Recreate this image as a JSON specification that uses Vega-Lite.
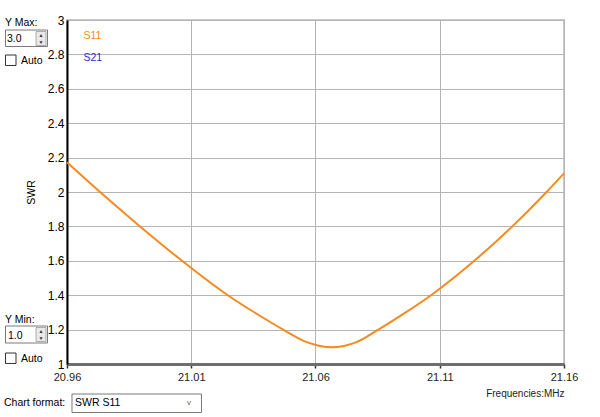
{
  "$schema": "https://vega.github.io/schema/vega-lite/v6.json",
  "width": 497,
  "height": 344,
  "autosize": {"type": "none"},
  "padding": {"left": 67, "top": 20, "right": 36, "bottom": 53},
  "background": "white",
  "config": {
    "font": "Liberation Sans",
    "view": {"stroke": "#c8c8c8", "strokeWidth": 2},
    "text": {"font": "Liberation Sans", "fontSize": 10.5, "color": "#000000", "align": "left", "baseline": "alphabetic"}
  },
  "datasets": {
    "swr": [
      {"series": "S11", "freq": 20.96, "swr": 2.173},
      {"series": "S11", "freq": 20.9733, "swr": 2.0},
      {"series": "S11", "freq": 20.9894, "swr": 1.8},
      {"series": "S11", "freq": 21.0063, "swr": 1.6},
      {"series": "S11", "freq": 21.01, "swr": 1.558},
      {"series": "S11", "freq": 21.0247, "swr": 1.4},
      {"series": "S11", "freq": 21.036, "swr": 1.295},
      {"series": "S11", "freq": 21.047, "swr": 1.2},
      {"series": "S11", "freq": 21.0565, "swr": 1.127},
      {"series": "S11", "freq": 21.0665, "swr": 1.097},
      {"series": "S11", "freq": 21.0765, "swr": 1.127},
      {"series": "S11", "freq": 21.0853, "swr": 1.2},
      {"series": "S11", "freq": 21.096, "swr": 1.297},
      {"series": "S11", "freq": 21.1065, "swr": 1.4},
      {"series": "S11", "freq": 21.1239, "swr": 1.6},
      {"series": "S11", "freq": 21.1392, "swr": 1.8},
      {"series": "S11", "freq": 21.153, "swr": 2.0},
      {"series": "S11", "freq": 21.16, "swr": 2.108}
    ],
    "widget": [{"kind": "control"}]
  },
  "layer": [
    {
      "data": {"name": "swr"},
      "mark": {"type": "line", "strokeWidth": 2, "interpolate": "monotone"},
      "encoding": {
        "x": {
          "field": "freq", "type": "quantitative",
          "scale": {"domain": [20.96, 21.16], "nice": false, "zero": false},
          "axis": {
            "values": [20.96, 21.01, 21.06, 21.11, 21.16],
            "tickCount": 10,
            "format": ".2f",
            "grid": true, "gridColor": "#b4b4b4", "gridWidth": 1,
            "domainColor": "#6e6e6e", "domainWidth": 3,
            "tickColor": "#333333", "tickSize": 4, "tickWidth": 1.5,
            "labelFlush": false, "labelOverlap": false,
            "labelPadding": 3, "labelFontSize": 11, "labelColor": "#222222",
            "title": "Frequencies:MHz", "titleAnchor": "end",
            "titleFontSize": 10, "titleFontWeight": "normal", "titleColor": "#222222",
            "titlePadding": 6
          }
        },
        "y": {
          "field": "swr", "type": "quantitative",
          "scale": {"domain": [1, 3], "nice": false, "zero": false},
          "axis": {
            "values": [1, 1.2, 1.4, 1.6, 1.8, 2, 2.2, 2.4, 2.6, 2.8, 3],
            "tickCount": 20,
            "format": "~g",
            "grid": true, "gridColor": "#b4b4b4", "gridWidth": 1,
            "domainColor": "#000000", "domainWidth": 2,
            "ticks": false, "labelPadding": 3, "labelOverlap": false,
            "labelFontSize": 12, "labelColor": "#000000",
            "title": "SWR", "titleFontSize": 10.5, "titleFontWeight": "normal",
            "titleColor": "#000000", "titlePadding": 11
          }
        },
        "color": {
          "field": "series", "type": "nominal",
          "scale": {"domain": ["S11", "S21"], "range": ["#f58a1f", "#2b2bd4"]},
          "legend": {
            "orient": "top-left", "offset": 11, "title": null,
            "symbolSize": 0, "symbolOpacity": 0, "symbolStrokeWidth": 0,
            "labelOffset": -5, "labelFontSize": 10.5, "rowPadding": 11, "padding": 0,
            "encode": {"labels": {"update": {"fill": {"signal": "datum.value === 'S11' ? '#f58a1f' : '#2b2bd4'"}}}}
          }
        }
      }
    },
    {
      "data": {"name": "widget"},
      "mark": {"type": "text"},
      "encoding": {"x": {"datum": 20.93505, "type": "quantitative"}, "y": {"datum": 2.96512, "type": "quantitative"}, "text": {"value": "Y Max:"}}
    },
    {
      "data": {"name": "widget"},
      "mark": {"type": "rect", "fill": "white", "stroke": "#7a7a7a", "strokeWidth": 1},
      "encoding": {"x": {"datum": 20.93525, "type": "quantitative"}, "x2": {"datum": 20.95215}, "y": {"datum": 2.94186, "type": "quantitative"}, "y2": {"datum": 2.84593}}
    },
    {
      "data": {"name": "widget"},
      "mark": {"type": "rect", "fill": "#e9e9e9", "stroke": "#adadad", "strokeWidth": 1},
      "encoding": {"x": {"datum": 20.94753, "type": "quantitative"}, "x2": {"datum": 20.95155}, "y": {"datum": 2.93314, "type": "quantitative"}, "y2": {"datum": 2.85174}}
    },
    {
      "data": {"name": "widget"},
      "mark": {"type": "text", "fontSize": 5, "align": "center", "color": "#333333"},
      "encoding": {"x": {"datum": 20.94954, "type": "quantitative"}, "y": {"datum": 2.90116, "type": "quantitative"}, "text": {"value": "▲"}}
    },
    {
      "data": {"name": "widget"},
      "mark": {"type": "text", "fontSize": 5, "align": "center", "color": "#333333"},
      "encoding": {"x": {"datum": 20.94954, "type": "quantitative"}, "y": {"datum": 2.86047, "type": "quantitative"}, "text": {"value": "▼"}}
    },
    {
      "data": {"name": "widget"},
      "mark": {"type": "text"},
      "encoding": {"x": {"datum": 20.93586, "type": "quantitative"}, "y": {"datum": 2.87209, "type": "quantitative"}, "text": {"value": "3.0"}}
    },
    {
      "data": {"name": "widget"},
      "mark": {"type": "rect", "fill": "white", "stroke": "#333333", "strokeWidth": 1},
      "encoding": {"x": {"datum": 20.93525, "type": "quantitative"}, "x2": {"datum": 20.93948}, "y": {"datum": 2.79651, "type": "quantitative"}, "y2": {"datum": 2.73547}}
    },
    {
      "data": {"name": "widget"},
      "mark": {"type": "text"},
      "encoding": {"x": {"datum": 20.94149, "type": "quantitative"}, "y": {"datum": 2.74419, "type": "quantitative"}, "text": {"value": "Auto"}}
    },
    {
      "data": {"name": "widget"},
      "mark": {"type": "text"},
      "encoding": {"x": {"datum": 20.93505, "type": "quantitative"}, "y": {"datum": 1.23837, "type": "quantitative"}, "text": {"value": "Y Min:"}}
    },
    {
      "data": {"name": "widget"},
      "mark": {"type": "rect", "fill": "white", "stroke": "#7a7a7a", "strokeWidth": 1},
      "encoding": {"x": {"datum": 20.93525, "type": "quantitative"}, "x2": {"datum": 20.95215}, "y": {"datum": 1.22093, "type": "quantitative"}, "y2": {"datum": 1.12209}}
    },
    {
      "data": {"name": "widget"},
      "mark": {"type": "rect", "fill": "#e9e9e9", "stroke": "#adadad", "strokeWidth": 1},
      "encoding": {"x": {"datum": 20.94753, "type": "quantitative"}, "x2": {"datum": 20.95155}, "y": {"datum": 1.21221, "type": "quantitative"}, "y2": {"datum": 1.1308}}
    },
    {
      "data": {"name": "widget"},
      "mark": {"type": "text", "fontSize": 5, "align": "center", "color": "#333333"},
      "encoding": {"x": {"datum": 20.94954, "type": "quantitative"}, "y": {"datum": 1.18023, "type": "quantitative"}, "text": {"value": "▲"}}
    },
    {
      "data": {"name": "widget"},
      "mark": {"type": "text", "fontSize": 5, "align": "center", "color": "#333333"},
      "encoding": {"x": {"datum": 20.94954, "type": "quantitative"}, "y": {"datum": 1.13953, "type": "quantitative"}, "text": {"value": "▼"}}
    },
    {
      "data": {"name": "widget"},
      "mark": {"type": "text"},
      "encoding": {"x": {"datum": 20.93626, "type": "quantitative"}, "y": {"datum": 1.14535, "type": "quantitative"}, "text": {"value": "1.0"}}
    },
    {
      "data": {"name": "widget"},
      "mark": {"type": "rect", "fill": "white", "stroke": "#333333", "strokeWidth": 1},
      "encoding": {"x": {"datum": 20.93525, "type": "quantitative"}, "x2": {"datum": 20.93948}, "y": {"datum": 1.06395, "type": "quantitative"}, "y2": {"datum": 1.00291}}
    },
    {
      "data": {"name": "widget"},
      "mark": {"type": "text"},
      "encoding": {"x": {"datum": 20.94149, "type": "quantitative"}, "y": {"datum": 1.01163, "type": "quantitative"}, "text": {"value": "Auto"}}
    },
    {
      "data": {"name": "widget"},
      "mark": {"type": "text"},
      "encoding": {"x": {"datum": 20.93465, "type": "quantitative"}, "y": {"datum": 0.75581, "type": "quantitative"}, "text": {"value": "Chart format:"}}
    },
    {
      "data": {"name": "widget"},
      "mark": {"type": "rect", "fill": "white", "stroke": "#7a7a7a", "strokeWidth": 1},
      "encoding": {"x": {"datum": 20.96201, "type": "quantitative"}, "x2": {"datum": 21.01412}, "y": {"datum": 0.82558, "type": "quantitative"}, "y2": {"datum": 0.71802}}
    },
    {
      "data": {"name": "widget"},
      "mark": {"type": "text"},
      "encoding": {"x": {"datum": 20.96322, "type": "quantitative"}, "y": {"datum": 0.75581, "type": "quantitative"}, "text": {"value": "SWR S11"}}
    },
    {
      "data": {"name": "widget"},
      "mark": {"type": "text", "fontSize": 8, "color": "#666666"},
      "encoding": {"x": {"datum": 21.00829, "type": "quantitative"}, "y": {"datum": 0.76163, "type": "quantitative"}, "text": {"value": "v"}}
    }
  ]
}
